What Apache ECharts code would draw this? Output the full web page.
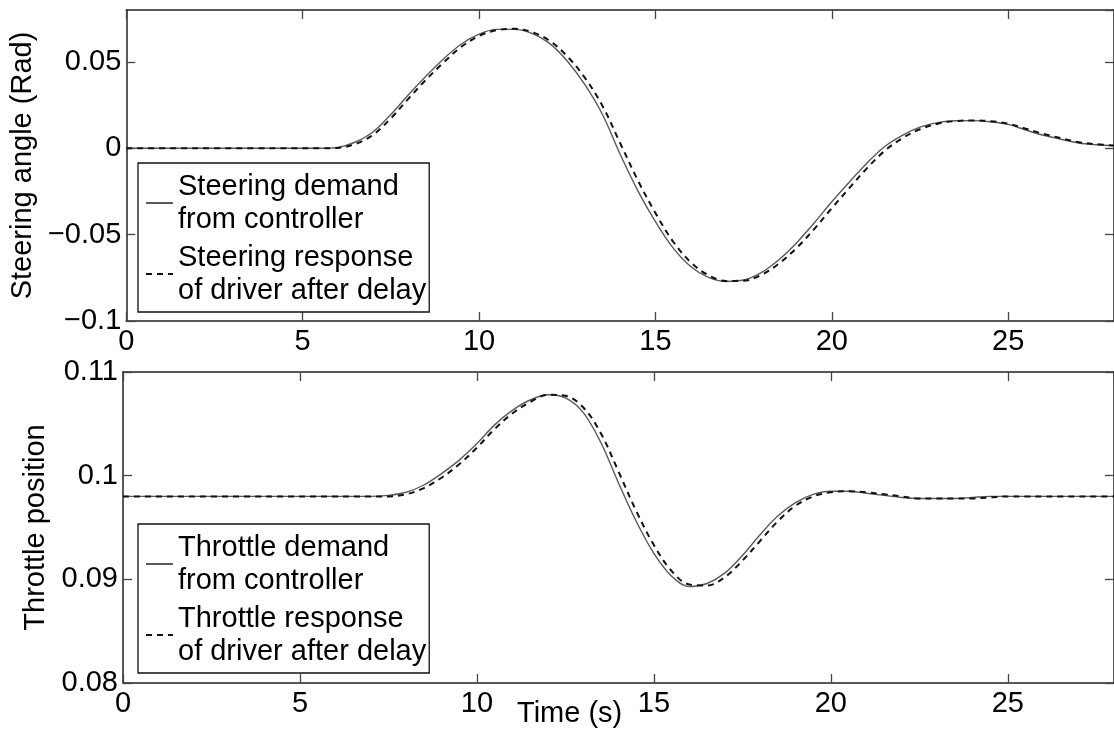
<!DOCTYPE html>
<html>
<head>
<meta charset="utf-8">
<script src="https://cdn.jsdelivr.net/npm/echarts@6/dist/echarts.min.js"></script>
<style>
html,body{margin:0;padding:0;background:#fff;}
#chart{width:1114px;height:738px;}
</style>
</head>
<body>
<div id="chart"></div>
<script>
// ---- data ----
const timeS = [0,5,5.5,6,6.5,7,7.5,8,8.5,9,9.5,10,10.5,11,11.5,12,12.5,13,13.5,14,14.5,15,15.5,16,16.5,17,17.5,18,18.5,19,19.5,20,20.5,21,21.5,22,22.5,23,23.5,24,24.5,25,25.5,26,26.5,27,27.5,28];

const steerDemand = [0,0,0,0.0005,0.0036,0.0095,0.0195,0.031,0.0418,0.0518,0.0603,0.066,0.0688,0.0688,0.0665,0.0607,0.0505,0.0368,0.0195,-0.0035,-0.0245,-0.0425,-0.0577,-0.0685,-0.0748,-0.0771,-0.0763,-0.072,-0.0645,-0.0548,-0.0433,-0.031,-0.0195,-0.0085,0.001,0.0075,0.0122,0.0148,0.0159,0.016,0.0153,0.0138,0.0105,0.0075,0.0052,0.003,0.002,0.0015];

const steerResponse = [0,0,0,0.0002,0.0025,0.0078,0.0173,0.0287,0.0397,0.0497,0.0587,0.065,0.0684,0.0691,0.0672,0.0622,0.0532,0.0408,0.0245,0.003,-0.0185,-0.0375,-0.054,-0.066,-0.0735,-0.0768,-0.0767,-0.0733,-0.0668,-0.0578,-0.0468,-0.0347,-0.023,-0.0115,-0.0015,0.0058,0.011,0.0142,0.0157,0.0161,0.0156,0.0142,0.0113,0.0083,0.0058,0.0035,0.0023,0.0016];

const throttleDemand = [0.098,0.098,0.098,0.098,0.098,0.098,0.0981,0.0984,0.0991,0.1002,0.1015,0.1031,0.1049,0.1063,0.1073,0.1078,0.1075,0.1061,0.1032,0.0993,0.0956,0.0925,0.0903,0.0893,0.0896,0.0906,0.0923,0.0943,0.0961,0.0974,0.0982,0.0985,0.0985,0.0983,0.0981,0.0979,0.0978,0.0978,0.0978,0.0979,0.098,0.098,0.098,0.098,0.098,0.098,0.098,0.098];

const throttleResponse = [0.098,0.098,0.098,0.098,0.098,0.098,0.098,0.0982,0.0988,0.0998,0.1011,0.1027,0.1045,0.106,0.1071,0.1078,0.1077,0.1066,0.1041,0.1004,0.0966,0.0933,0.0908,0.0895,0.0894,0.0902,0.0918,0.0937,0.0956,0.0971,0.098,0.0984,0.0985,0.0984,0.0982,0.098,0.0978,0.0978,0.0978,0.0978,0.0979,0.098,0.098,0.098,0.098,0.098,0.098,0.098];

const seriesNames = [
  'Steering demand\nfrom controller',
  'Steering response\nof driver after delay',
  'Throttle demand\nfrom controller',
  'Throttle response\nof driver after delay'
];
const yAxisTitles = ['Steering angle (Rad)', 'Throttle position'];
const xAxisTitle = 'Time (s)';
const xRange = [0, 28, 5];
const steerRange = [-0.1, 0.08, 0.05];
const throttleRange = [0.08, 0.11, 0.01];

// ---- chart ----
const FONT = '"Liberation Sans", Arial, Helvetica, sans-serif';
const FS = 29;
const AXC = '#222';
const zip = (xs, ys) => xs.map((x, i) => [x, ys[i]]);
const fmt = v => String(Math.round(v * 1000) / 1000).replace('-', '\u2212');

function xAx(grid, pos, labels) {
  return {
    type: 'value', gridIndex: grid, position: pos,
    min: xRange[0], max: xRange[1], interval: xRange[2],
    axisLine: {show: true, onZero: false, lineStyle: {color: AXC, width: 1.5}},
    axisTick: {show: true, inside: true, length: 9, lineStyle: {color: '#444', width: 1.3}},
    axisLabel: {show: labels, showMaxLabel: false, margin: 6, color: '#000', fontSize: FS, fontFamily: FONT},
    splitLine: {show: false}
  };
}
function yAx(grid, pos, range, labels, name, gap) {
  return {
    type: 'value', gridIndex: grid, position: pos,
    min: range[0], max: range[1], interval: range[2],
    name: labels ? name : '', nameLocation: 'middle', nameGap: gap,
    nameTextStyle: {color: '#000', fontSize: FS, fontFamily: FONT},
    axisLine: {show: true, onZero: false, lineStyle: {color: AXC, width: 1.5}},
    axisTick: {show: true, inside: true, length: 9, lineStyle: {color: '#444', width: 1.3}},
    axisLabel: {show: labels, showMaxLabel: range[1] === 0.11, margin: 5, color: '#000', fontSize: FS, fontFamily: FONT, formatter: fmt},
    splitLine: {show: false}
  };
}

const solidStyle = {color: '#5a5a5a', width: 1.4, type: 'solid'};
const dashStyle = {color: '#111', width: 2, type: [6, 5]};

function line(name, xi, data, style) {
  return {
    name: name, type: 'line', xAxisIndex: xi, yAxisIndex: xi,
    data: data, showSymbol: false, symbol: 'none', smooth: 0.35,
    lineStyle: style, itemStyle: {color: style.color}, silent: true, animation: false
  };
}

function legend(names, top) {
  return {
    orient: 'vertical', left: 138, top: top,
    data: names,
    padding: [7, 3, 5, 7], itemGap: 5,
    itemWidth: 27, itemHeight: 14,
    itemStyle: {opacity: 0},
    borderColor: '#111', borderWidth: 1.3, backgroundColor: '#fff',
    textStyle: {color: '#000', fontSize: FS, fontFamily: FONT, lineHeight: 33},
    selectedMode: false
  };
}

const chart = echarts.init(document.getElementById('chart'), null, {renderer: 'canvas'});
chart.setOption({
  backgroundColor: '#fff',
  animation: false,
  title: {text: xAxisTitle, left: 517, top: 699, padding: 0,
    textStyle: {color: '#000', fontSize: FS, fontWeight: 'normal', fontFamily: FONT}},
  grid: [
    {left: 123, top: 10, width: 992, height: 311},
    {left: 123, top: 372, width: 992, height: 311}
  ],
  xAxis: [
    xAx(0, 'bottom', true), xAx(1, 'bottom', true),
    xAx(0, 'top', false), xAx(1, 'top', false)
  ],
  yAxis: [
    yAx(0, 'left', steerRange, true, yAxisTitles[0], 78),
    yAx(1, 'left', throttleRange, true, yAxisTitles[1], 66),
    yAx(0, 'right', steerRange, false, '', 0),
    yAx(1, 'right', throttleRange, false, '', 0)
  ],
  legend: [
    legend([seriesNames[0], seriesNames[1]], 163),
    legend([seriesNames[2], seriesNames[3]], 524)
  ],
  series: [
    line(seriesNames[0], 0, zip(timeS, steerDemand), solidStyle),
    line(seriesNames[1], 0, zip(timeS, steerResponse), dashStyle),
    line(seriesNames[2], 1, zip(timeS, throttleDemand), solidStyle),
    line(seriesNames[3], 1, zip(timeS, throttleResponse), dashStyle)
  ]
});
</script>
</body>
</html>
